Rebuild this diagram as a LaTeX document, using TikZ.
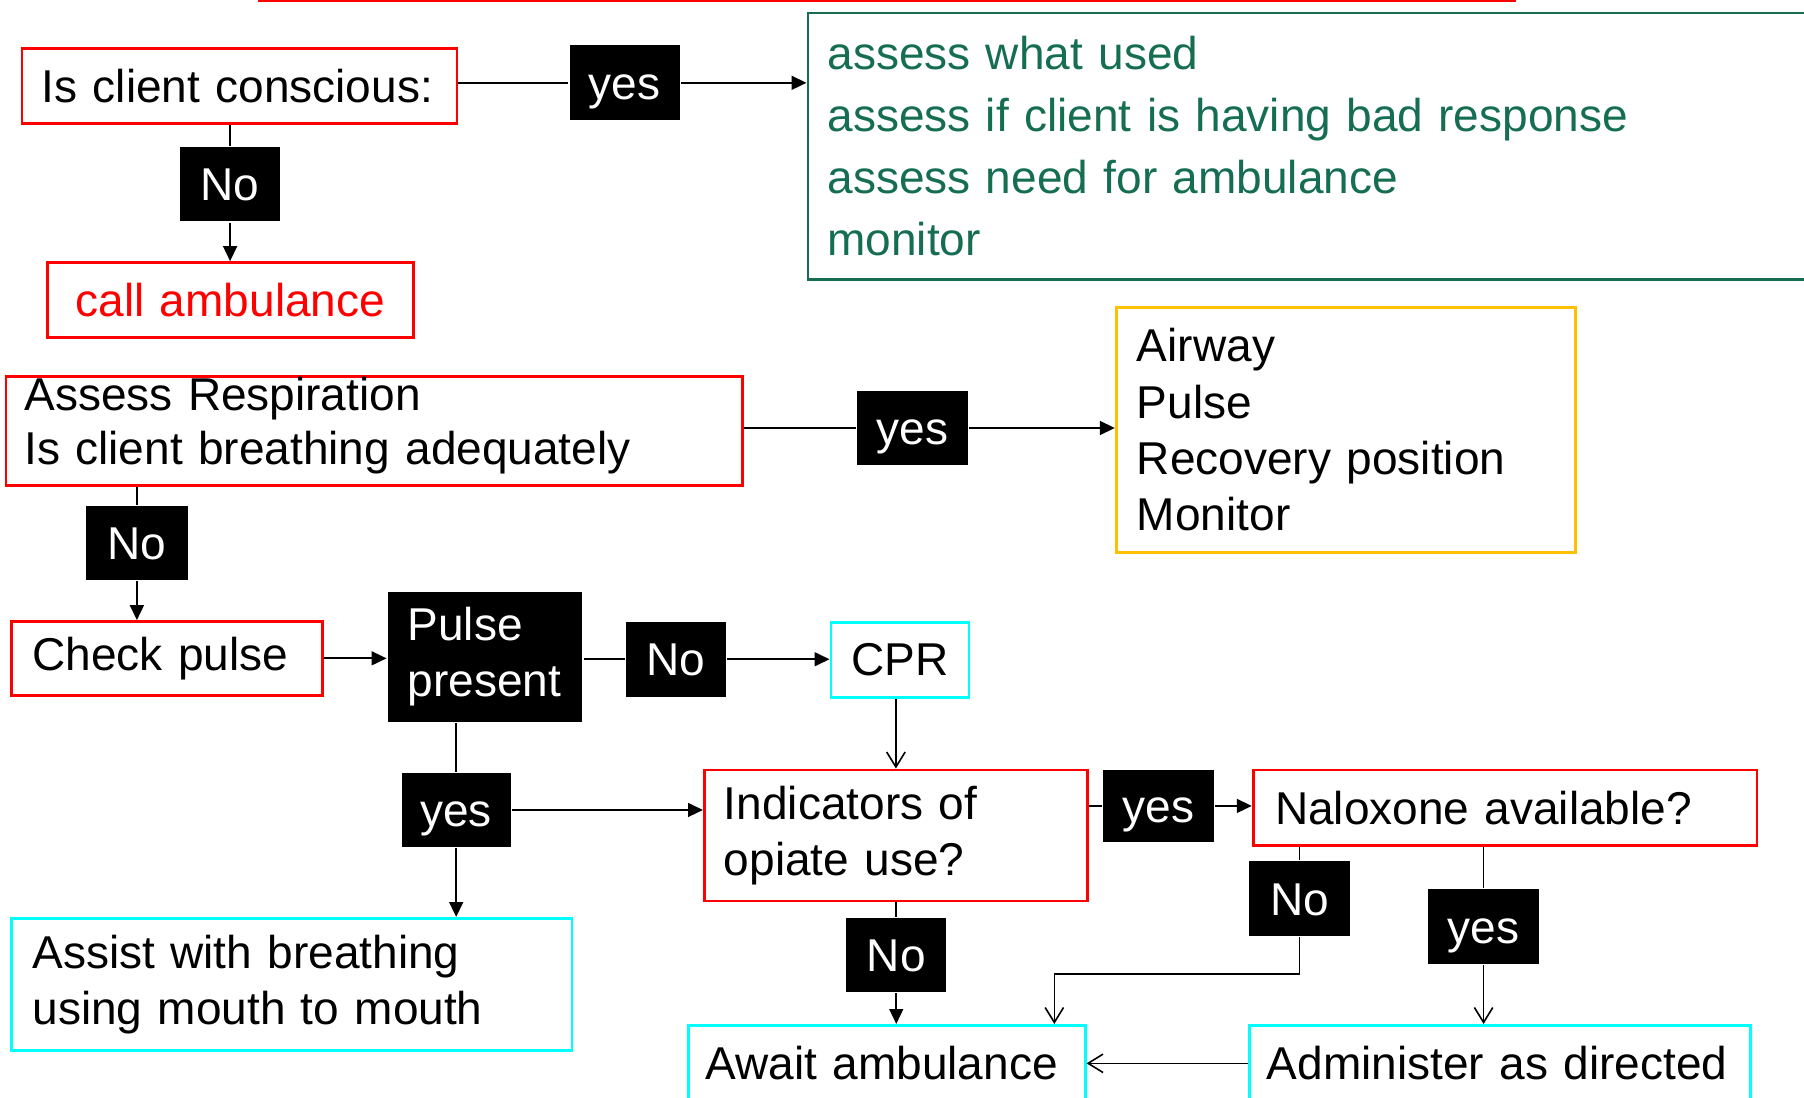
\documentclass[tikz,border=0pt]{standalone}
\usepackage{fontspec}
\setmainfont{Liberation Sans}
\usepackage{tikz}
\usetikzlibrary{arrows.meta,positioning}
\definecolor{stepgreen}{RGB}{22,110,82}
\definecolor{gold}{RGB}{255,192,0}
\definecolor{aqua}{RGB}{0,255,255}
\newcommand{\flowfont}[1][49pt]{\fontsize{40pt}{#1}\selectfont}

\begin{document}
\begin{tikzpicture}[x=1pt, y=-1pt, >={Triangle[length=13pt,width=12pt]}, line width=1.8pt, every node/.style={font=\flowfont}]
			\tikzstyle{box}=[rectangle, line width=2.4pt, inner xsep=17pt, inner ysep=0pt, align=left, anchor=north west]
			\tikzstyle{lbl}=[rectangle, fill=black, text=white, inner sep=0pt, minimum height=65pt, text height=29pt, text depth=0pt]
			\tikzstyle{ybox}=[lbl, minimum width=96pt]
			\tikzstyle{nbox}=[lbl, minimum width=87pt]
			\tikzstyle{barb}=[line width=1.4pt, -{Straight Barb[length=13pt,width=16pt]}]

			\useasboundingbox (0,0) rectangle (1568,954);
			\clip (0,0) rectangle (1568,954);

			\begin{scope}
				\node[box, draw=red, anchor=south west, minimum width=1091pt, minimum height=60pt] (title) at (224,1.5) {};
				\node[box, draw=red, text width=344pt, minimum height=65pt] (cons) at (18,41) {Is client conscious:};
				\node[box, draw=stepgreen, text=stepgreen, text width=866pt, minimum height=232pt, font={\flowfont[54pt]}] (green) at (701,10) {assess what used\\assess if client is having bad response\\assess need for ambulance\\monitor};
				\node[box, draw=red, text=red, text width=284pt, minimum height=65pt, align=center] (call) at (40,227) {call ambulance};
				\node[box, draw=red, text width=608pt, inner xsep=16pt, minimum height=95pt, font={\flowfont[47pt]}, execute at end node={\vspace{10pt}}] (resp) at (4,326) {Assess Respiration\\Is client breathing adequately};
				\node[box, draw=gold, text width=363pt, inner xsep=18pt, minimum height=213pt] (air) at (969,266) {Airway\\Pulse\\Recovery position\\Monitor};
				\node[box, draw=red, text width=234pt, inner xsep=18pt, minimum height=64pt] (chk) at (9,539) {Check pulse};
				\node[box, fill=black, text=white, text width=135pt, minimum height=113pt] (pls) at (336,513) {Pulse\\present};
				\node[box, draw=aqua, text width=84pt, inner xsep=18pt, minimum height=65pt] (cpr) at (721,540) {CPR};
				\node[box, draw=aqua, text width=451pt, inner xsep=18pt, minimum height=115pt] (assist) at (9,797) {Assist with breathing\\using mouth to mouth};
				\node[box, draw=red, text width=299pt, minimum height=114pt, font={\flowfont[48pt]}] (ind) at (611,668) {Indicators of\\opiate use?};
				\node[box, draw=red, text width=400pt, inner xsep=19pt, minimum height=66pt] (nal) at (1088,668) {Naloxone available?};
				\node[box, draw=aqua, text width=315pt, inner xsep=15pt, minimum height=66pt] (await) at (597,890) {Await ambulance};
				\node[box, draw=aqua, text width=405pt, inner xsep=15pt, minimum height=66pt] (adm) at (1085,890) {Administer as directed};

				\node[ybox] (y1) at (543,72) {yes}; \node[nbox] (n1) at (200,160) {No};
				\node[ybox] (y2) at (793,372) {yes}; \node[nbox, minimum width=88pt] (n2) at (119,472) {No};
				\node[nbox] (n3) at (587.5,573) {No}; \node[ybox, minimum width=95pt] (y3) at (396.5,704) {yes};
				\node[ybox, minimum height=63pt] (y4) at (1007,700.5) {yes}; \node[nbox] (n4) at (1129.5,781) {No};
				\node[ybox, minimum width=97pt] (y5) at (1289.5,805.5) {yes}; \node[nbox] (n5) at (779,830) {No};

				\draw[->] (cons.east |- y1) -- (y1.west) (y1.east) -- (y1 -| green.west);
				\draw[->] (n1 |- cons.south) -- (n1.north) (n1.south) -- (n1 |- call.north);
				\draw[->] (resp.east |- y2) -- (y2.west) (y2.east) -- (y2 -| air.west);
				\draw[->] (n2 |- resp.south) -- (n2.north) (n2.south) -- (n2 |- chk.north);
				\draw[->] (chk.east) -- (chk.east -| pls.west);
				\draw[->] (pls.east |- n3) -- (n3.west) (n3.east) -- (n3 -| cpr.west);
				\draw[barb] (ind |- cpr.south) -- (ind.north);
				\draw[->] (y3 |- pls.south) -- (y3.north) (y3.south) -- (y3 |- assist.north);
				\draw[->] (y3.east) -- (y3.east -| ind.west);
				\draw[->] (ind.east |- y4) -- (y4.west) (y4.east) -- (y4 -| nal.west);
				\draw[barb] (n4 |- nal.south) -- (n4.north) (n4.south) -- ++(0,32) -| ([xshift=-28pt]await.north east);
				\draw[barb] (y5 |- nal.south) -- (y5.north) (y5.south) -- (y5 |- adm.north);
				\draw[->] (n5 |- ind.south) -- (n5.north) (n5.south) -- (n5 |- await.north);
				\draw[barb] (adm.west) -- (adm.west -| await.east);
			\end{scope}
		\end{tikzpicture}
\end{document}
